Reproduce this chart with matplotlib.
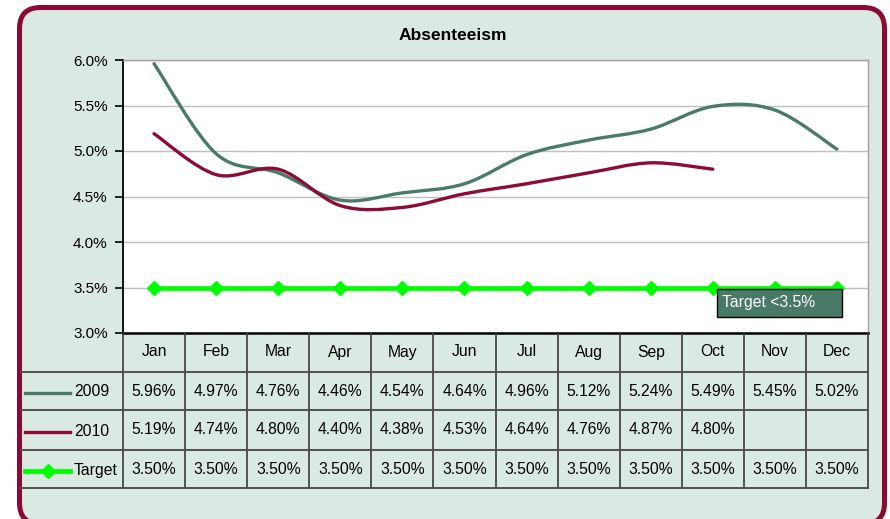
import numpy as np
import matplotlib.pyplot as plt
from matplotlib.path import Path
from matplotlib.patches import PathPatch, FancyBboxPatch, Rectangle
from matplotlib.transforms import IdentityTransform

plt.rcParams['font.family'] = ['Liberation Sans', 'DejaVu Sans']

months = ["Jan", "Feb", "Mar", "Apr", "May", "Jun",
          "Jul", "Aug", "Sep", "Oct", "Nov", "Dec"]
y2009 = [5.96, 4.97, 4.76, 4.46, 4.54, 4.64, 4.96, 5.12, 5.24, 5.49, 5.45, 5.02]
y2010 = [5.19, 4.74, 4.80, 4.40, 4.38, 4.53, 4.64, 4.76, 4.87, 4.80]
target = [3.50] * 12
yticks = [3.0, 3.5, 4.0, 4.5, 5.0, 5.5, 6.0]

BG = "#dbe9e3"
C2009 = "#4a7b69"
C2010 = "#8c0c33"
CTGT = "#00ff00"
BORDER = "#8c0a32"
W, H = 890, 519
FS = 11.3


def smooth_path(xs, ys):
    # Catmull-Rom style bezier through the points (Excel "smoothed line")
    pts = np.column_stack([xs, ys]).astype(float)
    verts = [pts[0]]
    codes = [Path.MOVETO]
    n = len(pts)
    for i in range(n - 1):
        p0 = pts[i - 1] if i > 0 else pts[i]
        p1 = pts[i]
        p2 = pts[i + 1]
        p3 = pts[i + 2] if i + 2 < n else pts[i + 1]
        c1 = p1 + (p2 - p0) / 6.0
        c2 = p2 - (p3 - p1) / 6.0
        verts += [c1, c2, p2]
        codes += [Path.CURVE4] * 3
    return Path(verts, codes)


fig = plt.figure(figsize=(W / 100, H / 100), dpi=100)
fig.patch.set_facecolor("white")

# rounded frame, display pixels (y up); bottom edge sits just below the figure
frame = FancyBboxPatch((19.5, -5), 865, H - 7.5 + 5,
                       boxstyle="round,pad=0,rounding_size=21",
                       facecolor=BG, edgecolor=BORDER, linewidth=3.6,
                       transform=IdentityTransform(), zorder=0)
fig.patches.append(frame)

# plot area
x0, x1, ytop, ybot = 123, 868, 60, 333
ax = fig.add_axes([x0 / W, 1 - ybot / H, (x1 - x0) / W, (ybot - ytop) / H], zorder=2)
ax.set_facecolor("white")
ax.set_xlim(-0.5, 11.5)
ax.set_ylim(3.0, 6.0)
ax.set_yticks(yticks)
ax.set_yticklabels([f"{v:.1f}%" for v in yticks], fontsize=11)
ax.set_xticks([])
ax.tick_params(axis="y", direction="out", length=6, width=1.2, pad=5)
ax.yaxis.grid(True, color="#c0c0c0", linewidth=1)
ax.set_axisbelow(True)
for s in ["top", "right"]:
    ax.spines[s].set_color("#a0a0a0")
    ax.spines[s].set_linewidth(1)
ax.spines["left"].set_linewidth(1.3)
ax.spines["bottom"].set_linewidth(1.8)

ax.add_patch(PathPatch(smooth_path(range(12), y2009), facecolor="none",
                       edgecolor=C2009, linewidth=2.4, capstyle="round"))
ax.add_patch(PathPatch(smooth_path(range(len(y2010)), y2010), facecolor="none",
                       edgecolor=C2010, linewidth=2.4, capstyle="round"))
ax.plot(range(12), target, color=CTGT, linewidth=3.4, marker="D",
        markersize=7, markeredgecolor=CTGT)

ax.add_patch(Rectangle((9.07, 3.176), 2.01, 0.307, facecolor="#497a68",
                       edgecolor="black", linewidth=1, zorder=5))
ax.text(9.15, 3.33, "Target <3.5%", color="white", fontsize=FS,
        va="center", ha="left", zorder=6)

fig.text(453 / W, 1 - 35 / H, "Absenteeism", ha="center", va="center",
         fontsize=12.5, fontweight="bold")

# data table
tb = fig.add_axes([0, 0, 1, 1], zorder=3)
tb.set_xlim(0, W)
tb.set_ylim(H, 0)
tb.axis("off")
colw = (x1 - x0) / 12
rows = [333, 372, 410, 450, 488]
lc = "#3a3a3a"
for i in range(13):
    xv = x0 + i * colw
    tb.plot([xv, xv], [ybot, rows[-1]], color=lc, linewidth=1.2)
for r in rows[1:]:
    tb.plot([21, x1], [r, r], color="#505050", linewidth=1.4)

for i, m in enumerate(months):
    cx = x0 + (i + 0.5) * colw
    tb.text(cx, 352, m, ha="center", va="center", fontsize=FS)

series = [("2009", y2009, C2009, None), ("2010", y2010, C2010, None),
          ("Target", target, CTGT, "D")]
for k, (name, vals, col, mk) in enumerate(series):
    cy = (rows[k + 1] + rows[k + 2]) / 2
    for i, v in enumerate(vals):
        cx = x0 + (i + 0.5) * colw
        tb.text(cx, cy, f"{v:.2f}%", ha="center", va="center", fontsize=FS)
    lw = 3.4 if mk else 2.4
    tb.plot([25, 70], [cy + 2, cy + 2], color=col, linewidth=lw)
    if mk:
        tb.plot([47.5], [cy + 2], marker="D", color=col, markersize=7)
    tb.text(74, cy + 1, name, ha="left", va="center", fontsize=FS)

fig.savefig("out.png", dpi=100, facecolor="white")
